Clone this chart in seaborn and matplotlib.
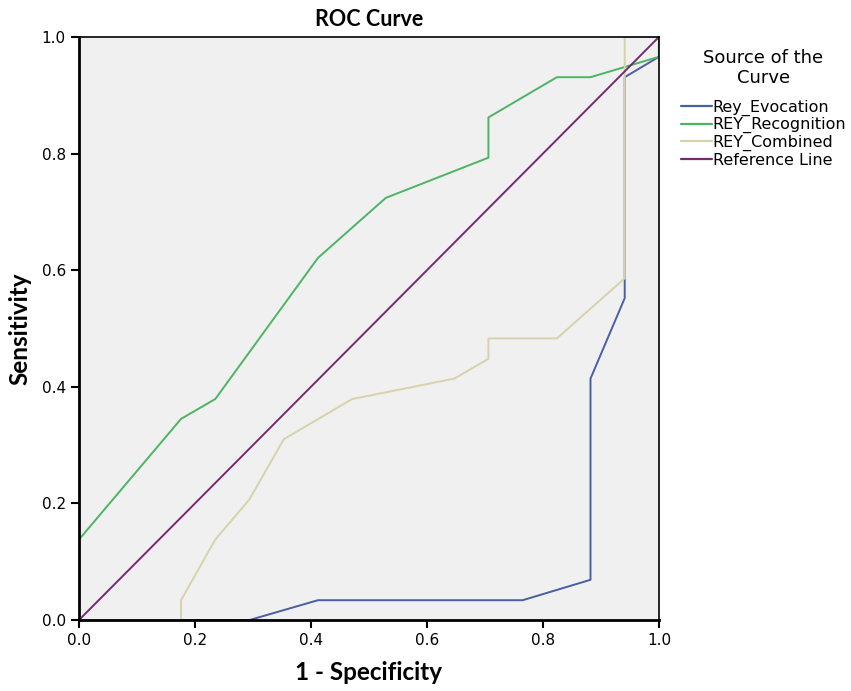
import matplotlib
matplotlib.use("Agg")
import matplotlib.pyplot as plt
import seaborn as sns
import pandas as pd

# Data
evoc_x = [0.0, 0.294, 0.412, 0.765, 0.882, 0.882, 0.941, 0.941, 1.0, 1.0]
evoc_y = [0.0, 0.0, 0.034, 0.034, 0.069, 0.414, 0.552, 0.931, 0.966, 1.0]

recog_x = [0.0, 0.0, 0.176, 0.235, 0.412, 0.529, 0.706, 0.706, 0.824, 0.882, 1.0, 1.0]
recog_y = [0.0, 0.138, 0.345, 0.379, 0.621, 0.724, 0.793, 0.862, 0.931, 0.931, 0.966, 1.0]

comb_x = [0.0, 0.176, 0.176, 0.235, 0.294, 0.353, 0.471, 0.647, 0.706, 0.706, 0.824, 0.941, 0.941, 1.0]
comb_y = [0.0, 0.0, 0.034, 0.138, 0.207, 0.310, 0.379, 0.414, 0.448, 0.483, 0.483, 0.586, 1.0, 1.0]

ref_x = [0.0, 1.0]
ref_y = [0.0, 1.0]

series_names = ["Rey_Evocation", "REY_Recognition", "REY_Combined", "Reference Line"]
colors = ["#4a5ea6", "#4cb464", "#d8d2aa", "#742a72"]
legend_title = "Source of the\nCurve"
tick_vals = [0.0, 0.2, 0.4, 0.6, 0.8, 1.0]
tick_labels = ["0.0", "0.2", "0.4", "0.6", "0.8", "1.0"]

frames = []
for name, xs, ys in zip(series_names, [evoc_x, recog_x, comb_x, ref_x], [evoc_y, recog_y, comb_y, ref_y]):
    frames.append(pd.DataFrame({"x": xs, "y": ys, "series": name, "order": range(len(xs))}))
df = pd.concat(frames, ignore_index=True)

sns.set_theme(style="ticks")
plt.rcParams['font.family'] = ['DejaVu Sans']
plt.rcParams['text.color'] = 'black'
plt.rcParams['axes.labelcolor'] = 'black'

fig = plt.figure(figsize=(8.51, 6.91), dpi=100)
ax = fig.add_axes([0.0928, 0.1027, 0.6815, 0.8438])
ax.set_facecolor("#f0f0f0")

sns.lineplot(data=df, x="x", y="y", hue="series", hue_order=series_names,
             palette=colors, sort=False, estimator=None, units="series",
             linewidth=1.4, ax=ax, legend=True)

ax.set_xlim(0, 1)
ax.set_ylim(0, 1)
ax.set_xticks(tick_vals)
ax.set_yticks(tick_vals)
ax.set_xticklabels(tick_labels)
ax.set_yticklabels(tick_labels)
ax.tick_params(direction="out", length=6, width=1.5, labelsize=11, colors="black")
for s in ax.spines.values():
    s.set_visible(True)
    s.set_color("black")
for side in ["left", "bottom"]:
    ax.spines[side].set_linewidth(2.0)
for side in ["top", "right"]:
    ax.spines[side].set_linewidth(1.2)

bold_font = ["Lato", "DejaVu Sans"]
ax.set_xlabel("1 - Specificity", fontsize=17.5, fontweight="bold", labelpad=9,
              color="black", family=bold_font)
ax.set_ylabel("Sensitivity", fontsize=17.5, fontweight="bold", labelpad=7,
              color="black", family=bold_font)
ax.set_title("ROC Curve", fontsize=15.5, fontweight="bold", pad=8,
             color="black", family=bold_font)

handles, labels = ax.get_legend_handles_labels()
leg = ax.legend(handles, labels, loc="upper left",
                bbox_to_anchor=(1.0276, 0.904), frameon=False, fontsize=11.5,
                handlelength=1.9, handletextpad=0.07,
                labelspacing=0.1, borderaxespad=0.0)
for t in leg.get_texts():
    t.set_color("black")
for line in leg.get_lines():
    line.set_linewidth(1.6)

fig.text(763.5 / 851, 1 - 49 / 691, legend_title, ha="center", va="top",
         fontsize=13, color="black", linespacing=1.15, multialignment="center")

fig.savefig("out.png", dpi=100)
